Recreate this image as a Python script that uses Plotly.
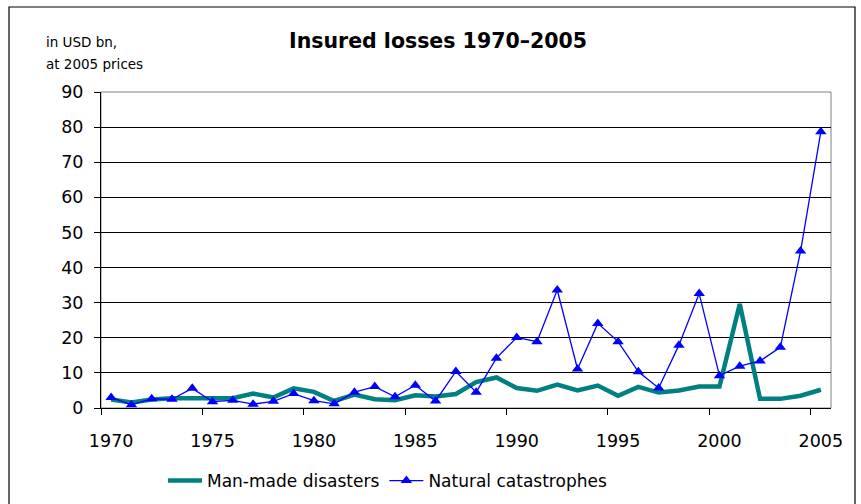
import plotly.graph_objects as go

years = list(range(1970, 2006))
man_made = [2.4, 1.6, 2.4, 2.8, 2.8, 2.8, 2.8, 4.1, 3.0, 5.6,
            4.6, 2.0, 3.8, 2.5, 2.2, 3.6, 3.3, 4.0, 7.4, 8.7,
            5.7, 4.9, 6.7, 5.0, 6.4, 3.5, 6.0, 4.4, 5.0, 6.1,
            6.1, 29.6, 2.6, 2.6, 3.5, 5.2]
natural = [3.0, 0.9, 2.6, 2.5, 5.6, 1.8, 2.2, 1.1, 1.9, 4.1,
           2.1, 1.2, 4.5, 6.1, 3.2, 6.5, 2.0, 10.4, 4.5, 14.2,
           20.1, 18.9, 33.6, 11.1, 24.1, 18.9, 10.3, 5.7, 17.9, 32.6,
           9.2, 11.9, 13.4, 17.3, 44.7, 78.7]
x_tick_years = [1970, 1975, 1980, 1985, 1990, 1995, 2000, 2005]
y_ticks = [0, 10, 20, 30, 40, 50, 60, 70, 80, 90]

FONT = "DejaVu Sans"

fig = go.Figure()
fig.add_trace(go.Scatter(
    x=years, y=man_made, mode="lines", name="Man-made disasters",
    line=dict(color="#008080", width=4.5)))
fig.add_trace(go.Scatter(
    x=years, y=natural, mode="lines+markers", name="Natural catastrophes",
    line=dict(color="#0000FF", width=1.3),
    marker=dict(symbol="triangle-up", size=10, color="#0000FF")))

fig.update_layout(
    width=861, height=504,
    margin=dict(l=101, r=30, t=92, b=96, autoexpand=False),
    paper_bgcolor="white", plot_bgcolor="white",
    font=dict(family=FONT, color="black", size=17),
    title=dict(text="<b>Insured losses 1970\u20132005</b>",
               x=438 / 861, xanchor="center", y=1 - 41 / 504, yanchor="middle",
               font=dict(family=FONT, size=20.5, color="black")),
    showlegend=True,
    legend=dict(orientation="h", x=(163 - 101) / 730, xanchor="left",
                y=(408 - 481) / 316, yanchor="middle",
                font=dict(family=FONT, size=17, color="black"),
                bgcolor="rgba(0,0,0,0)", itemwidth=34),
    xaxis=dict(range=[1969.5, 2005.5], tickmode="array", tickvals=x_tick_years,
               ticktext=[str(v) for v in x_tick_years], ticks="", showgrid=False,
               showline=True, linecolor="black", linewidth=1, zeroline=False,
               tickfont=dict(family=FONT, size=17.5, color="black"),
               ticklabelstandoff=17,
               minor=dict(tickvals=[v - 0.5 for v in x_tick_years], ticks="outside",
                          ticklen=6, tickcolor="black", tickwidth=1, showgrid=False)),
    yaxis=dict(range=[0, 90], tickmode="array", tickvals=y_ticks,
               ticks="outside", ticklen=6, tickcolor="black",
               showgrid=True, gridcolor="black", gridwidth=1,
               showline=True, linecolor="black", linewidth=1, zeroline=False,
               tickfont=dict(family=FONT, size=17.5, color="black"),
               ticklabelstandoff=7),
    shapes=[
        dict(type="rect", xref="paper", yref="paper", x0=0, x1=1, y0=0, y1=1,
             line=dict(color="#808080", width=1), layer="below"),
        dict(type="rect", xref="paper", yref="paper",
             x0=(9 - 101) / 730, x1=(855 - 101) / 730,
             y0=(408 - 515) / 316, y1=(408 - 7) / 316,
             line=dict(color="black", width=1.2), layer="below"),
    ],
    annotations=[
        dict(text="in USD bn,", xref="paper", yref="paper",
             x=(44 - 101) / 730, y=(408 - 42) / 316, xanchor="left", yanchor="middle",
             showarrow=False, font=dict(family=FONT, size=13.5, color="black")),
        dict(text="at 2005 prices", xref="paper", yref="paper",
             x=(44 - 101) / 730, y=(408 - 64) / 316, xanchor="left", yanchor="middle",
             showarrow=False, font=dict(family=FONT, size=13.5, color="black")),
    ],
)

fig.write_html("out.html", config={"displayModeBar": False},
               post_script="document.body.style.margin='0';document.body.style.overflow='hidden';")
